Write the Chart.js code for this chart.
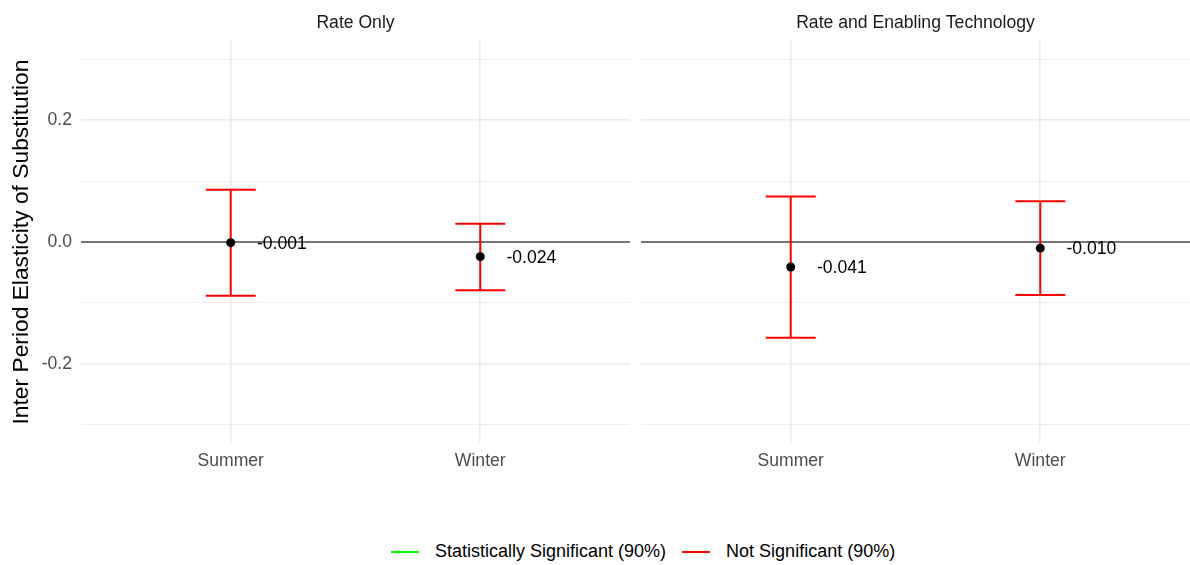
<!DOCTYPE html>
<html lang="en">
<head>
  <meta charset="UTF-8" />
  <title>Inter Period Elasticity of Substitution</title>
  <script src="https://cdn.jsdelivr.net/npm/chart.js"></script>
  <style>
    body {
      margin: 0;
      width: 1190px;
      height: 565px;
      background: #fff;
      position: relative;
      overflow: hidden;
      font-family: 'Liberation Sans', Arial, sans-serif;
    }

    .panel {
      position: absolute;
      top: 0;
      height: 483px;
    }

    #leftPanel { left: 0; width: 636px; }
    #rightPanel { left: 636px; width: 554px; }

    #legend {
      position: absolute;
      top: 541px;
      left: 391px;
      display: flex;
      align-items: center;
      font-size: 18px;
      color: #000;
      white-space: nowrap;
    }

    .item { display: flex; align-items: center; margin-right: 16px; }
    .key { width: 28px; height: 2px; margin-right: 16px; }
  </style>
</head>
<body>

<div class="panel" id="leftPanel"><canvas id="rateOnlyChart"></canvas></div>
<div class="panel" id="rightPanel"><canvas id="rateTechChart"></canvas></div>
<div id="legend"></div>

<script>
  // facets and categories
  const panelTitles = ['Rate Only', 'Rate and Enabling Technology'];
  const categories = ['Summer', 'Winter'];

  // Rate Only
  const rateOnlyEst = [-0.001, -0.024];
  const rateOnlyLow = [-0.088, -0.079];
  const rateOnlyHigh = [0.086, 0.030];
  const rateOnlySig = [false, false];

  // Rate and Enabling Technology
  const rateTechEst = [-0.041, -0.010];
  const rateTechLow = [-0.157, -0.087];
  const rateTechHigh = [0.075, 0.067];
  const rateTechSig = [false, false];

  // y axis
  const yGridValues = [-0.3, -0.2, -0.1, 0, 0.1, 0.2, 0.3];
  const yTickValues = [-0.2, 0, 0.2];
  const yTickLabels = ['-0.2', '0.0', '0.2'];
  const refLine = 0;

  const legendLabels = ['Statistically Significant (90%)', 'Not Significant (90%)'];
  const legendColors = ['#00ff00', '#ff0000'];

  const capHalf = 0.1;
  const labelNudge = 0.105;

  Chart.defaults.font.family = "'Liberation Sans', Arial, sans-serif";

  function isMajor(v) {
    return yTickValues.some(t => Math.abs(t - v) < 1e-9);
  }

  function makePanel(canvasId, title, est, low, high, sig, showY) {
    const errorBars = {
      id: 'errorBars_' + canvasId,
      beforeDatasetsDraw(chart) {
        const { ctx, chartArea, scales: { x, y } } = chart;
        ctx.save();
        // zero line
        const y0 = y.getPixelForValue(refLine);
        ctx.strokeStyle = '#4d4d4d';
        ctx.lineWidth = 1.5;
        ctx.beginPath();
        ctx.moveTo(chartArea.left, y0);
        ctx.lineTo(chartArea.right, y0);
        ctx.stroke();

        low.forEach((lo, i) => {
          const xc = x.getPixelForValue(i + 1);
          const xl = x.getPixelForValue(i + 1 - capHalf);
          const xr = x.getPixelForValue(i + 1 + capHalf);
          const yl = y.getPixelForValue(lo);
          const yh = y.getPixelForValue(high[i]);
          ctx.strokeStyle = sig[i] ? legendColors[0] : legendColors[1];
          ctx.lineWidth = 2;
          ctx.beginPath();
          ctx.moveTo(xc, yl); ctx.lineTo(xc, yh);
          ctx.moveTo(xl, yl); ctx.lineTo(xr, yl);
          ctx.moveTo(xl, yh); ctx.lineTo(xr, yh);
          ctx.stroke();
        });
        ctx.restore();
      },
      afterDatasetsDraw(chart) {
        const { ctx, scales: { x, y } } = chart;
        ctx.save();
        ctx.font = "17.6px 'Liberation Sans', Arial, sans-serif";
        ctx.fillStyle = '#000';
        ctx.textAlign = 'left';
        ctx.textBaseline = 'middle';
        est.forEach((v, i) => {
          ctx.fillText(v.toFixed(3), x.getPixelForValue(i + 1 + labelNudge), y.getPixelForValue(v) + 1);
        });
        ctx.restore();
      }
    };

    return new Chart(document.getElementById(canvasId), {
      type: 'scatter',
      data: {
        datasets: [{
          data: est.map((v, i) => ({ x: i + 1, y: v })),
          backgroundColor: '#000',
          borderWidth: 0,
          pointRadius: 4.5,
          showLine: false
        }]
      },
      options: {
        responsive: true,
        maintainAspectRatio: false,
        animation: false,
        events: [],
        layout: {
          autoPadding: false,
          padding: { left: 0, right: showY ? 6 : 0, top: 0, bottom: 0 }
        },
        plugins: {
          legend: { display: false },
          tooltip: { enabled: false },
          title: {
            display: true,
            text: title,
            fullSize: false,
            color: '#1a1a1a',
            font: { size: 17.6, weight: 'normal' },
            padding: { top: 13, bottom: 7 }
          }
        },
        scales: {
          x: {
            type: 'linear',
            min: 0.4,
            max: 2.6,
            afterBuildTicks: s => { s.ticks = categories.map((c, i) => ({ value: i + 1 })); },
            afterFit: s => { s.height = 40; },
            ticks: {
              callback: (v, i) => categories[i],
              color: '#4d4d4d',
              font: { size: 17.6 },
              padding: 8,
              autoSkip: false,
              maxRotation: 0
            },
            grid: { color: '#ebebeb', lineWidth: 1.6, drawTicks: false },
            border: { display: false }
          },
          y: {
            min: -0.33,
            max: 0.33,
            afterBuildTicks: s => { s.ticks = yGridValues.map(v => ({ value: v })); },
            afterFit: s => { s.width = showY ? 81 : 5; },
            title: {
              display: showY,
              text: 'Inter Period Elasticity of Substitution',
              color: '#000',
              font: { size: 22.8 },
              padding: { top: 8, bottom: 0 }
            },
            ticks: {
              display: showY,
              callback: v => isMajor(v) ? yTickLabels[yTickValues.findIndex(t => Math.abs(t - v) < 1e-9)] : '',
              color: '#4d4d4d',
              font: { size: 17.6 },
              padding: 9
            },
            grid: {
              color: '#ebebeb',
              lineWidth: c => isMajor(c.tick.value) ? 1.6 : 0.9,
              drawTicks: false
            },
            border: { display: false }
          }
        }
      },
      plugins: [errorBars]
    });
  }

  makePanel('rateOnlyChart', panelTitles[0], rateOnlyEst, rateOnlyLow, rateOnlyHigh, rateOnlySig, true);
  makePanel('rateTechChart', panelTitles[1], rateTechEst, rateTechLow, rateTechHigh, rateTechSig, false);

  // legend
  const legend = document.getElementById('legend');
  legendLabels.forEach((label, i) => {
    const item = document.createElement('div');
    item.className = 'item';
    const key = document.createElement('div');
    key.className = 'key';
    key.style.background = legendColors[i];
    const text = document.createElement('span');
    text.textContent = label;
    item.appendChild(key);
    item.appendChild(text);
    legend.appendChild(item);
  });
</script>

</body>
</html>
